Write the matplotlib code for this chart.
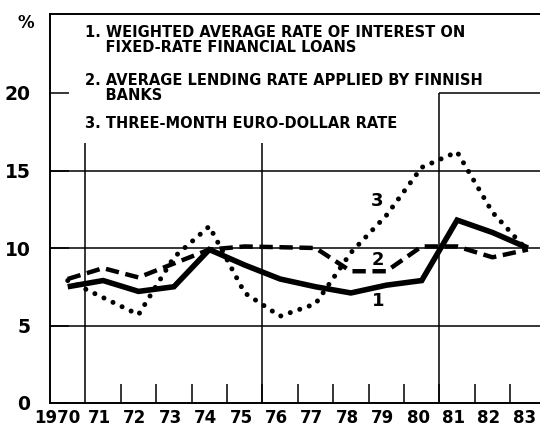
import matplotlib
matplotlib.use("Agg")
import matplotlib.pyplot as plt

years = list(range(1970, 1984))
year_labels = ["1970", "71", "72", "73", "74", "75", "76", "77", "78", "79", "80", "81", "82", "83"]

# 1. weighted average rate of interest on fixed-rate financial loans
loans = [7.5, 7.9, 7.2, 7.5, 9.9, 8.9, 8.0, 7.5, 7.1, 7.6, 7.9, 11.8, 11.0, 10.0]
# 2. average lending rate applied by Finnish banks
lending = [8.0, 8.7, 8.1, 9.0, 9.9, 10.1, 10.05, 10.0, 8.5, 8.5, 10.1, 10.1, 9.4, 9.9]
# 3. three-month euro-dollar rate
eurodollar = [7.9, 6.8, 5.7, 9.4, 11.4, 7.1, 5.6, 6.4, 9.7, 12.1, 15.2, 16.2, 12.3, 9.8]

legend_lines = [
    "1. WEIGHTED AVERAGE RATE OF INTEREST ON\n    FIXED-RATE FINANCIAL LOANS",
    "2. AVERAGE LENDING RATE APPLIED BY FINNISH\n    BANKS",
    "3. THREE-MONTH EURO-DOLLAR RATE",
]

plt.rcParams["font.family"] = "DejaVu Sans"
plt.rcParams["font.weight"] = "bold"

fig = plt.figure(figsize=(5.4, 4.26), dpi=100)
ax = fig.add_axes([50 / 540, 23 / 426, 490 / 540, 389 / 426])

x = [y + 0.5 for y in years]
ax.plot(x, loans, color="black", lw=4, solid_capstyle="butt", solid_joinstyle="miter", zorder=3)
ax.plot(x, lending, color="black", lw=3.2, linestyle=(0, (3, 1.5)), dash_capstyle="butt", zorder=3)
ax.plot(x, eurodollar, color="black", lw=3.6, linestyle=(0, (0.01, 2.0)), dash_capstyle="round", zorder=3)

x0, x1 = 1970, 1970 + 490 / 35.4
ax.set_xlim(x0, x1)
ax.set_ylim(0, 389 / 15.5)

# grid pieces
for v in [5, 10, 15]:
    ax.axhline(v, color="black", lw=1.1, zorder=1)
ax.vlines([1971, 1976], 0, 16.8, color="black", lw=1.1, zorder=1)
ax.vlines([1981], 0, 20, color="black", lw=1.1, zorder=1)
ax.hlines([20], 1981, x1, color="black", lw=1.1, zorder=1)

for side in ["left", "top", "bottom"]:
    ax.spines[side].set_linewidth(1.4)
ax.spines["right"].set_visible(False)

# ticks: major at year boundaries (no labels), minor at mid-year (labels)
ax.set_xticks(years[2:], [""] * len(years[2:]))
ax.tick_params(axis="x", which="major", direction="in", length=14, width=1.1)
label_pos = [years[0] + 0.2] + [y + 0.4 for y in years[1:]]
ax.set_xticks(label_pos, year_labels, minor=True)
ax.tick_params(axis="x", which="minor", length=0, pad=4, labelsize=12)

ax.set_yticks([0, 5, 10, 15, 20], ["0", "5", "10", "15", "20"])
ax.tick_params(axis="y", direction="in", length=14, width=1.1, pad=14, labelsize=13.5)

fig.text(26 / 540, 1 - 23 / 426, "%", ha="center", va="center", fontsize=12, fontweight="bold")

ys = [24.4, 21.3, 18.5]
for t, yy in zip(legend_lines, ys):
    ax.text(1971, yy, t, fontsize=10.5, fontweight="bold", va="top", linespacing=1.0)

ax.text(1979.24, 13.0, "3", fontsize=13, ha="center", va="center", fontweight="bold")
ax.text(1979.27, 9.2, "2", fontsize=13, ha="center", va="center", fontweight="bold")
ax.text(1979.27, 6.6, "1", fontsize=13, ha="center", va="center", fontweight="bold")

fig.savefig("out.png", dpi=100)
